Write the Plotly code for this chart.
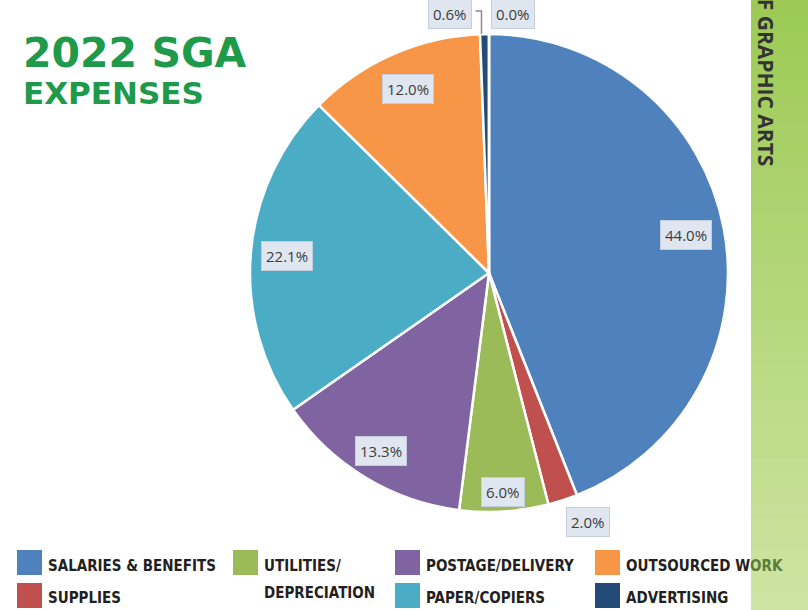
import math
import plotly.graph_objects as go

# ---- data ----
categories = ["SALARIES & BENEFITS", "SUPPLIES", "UTILITIES/ DEPRECIATION", "POSTAGE/DELIVERY",
              "PAPER/COPIERS", "OUTSOURCED WORK", "ADVERTISING", "OTHER"]
values = [44.0, 2.0, 6.0, 13.3, 22.1, 12.0, 0.6, 0.0]
colors = ["#4f81bd", "#c0504d", "#9bbb59", "#8064a2", "#4bacc6", "#f79646", "#244a78", "#1f3f66"]
legend_order = [0, 1, 2, 3, 4, 5, 6]

W, H = 808, 610
CX, CY, R = 489, 273, 239

# label placement styling: (radial factor, dx px, dy px)
label_style = [(0.84, 0, 0), (1.12, 16, -6), (0.92, 0, 0), (0.87, 0, 0),
               (0.85, 0, 0), (0.84, 0, 0), (1.084, -34, 0), (1.084, 24, 0)]

def px(x):
    return x / W

def py(y):
    return 1 - y / H

fig = go.Figure()
fig.add_trace(go.Pie(
    labels=categories, values=values, sort=False, direction="clockwise", rotation=0,
    marker=dict(colors=colors, line=dict(color="white", width=2.5)),
    textinfo="none", hoverinfo="label+percent", showlegend=False,
    domain=dict(x=[px(CX - R), px(CX + R)], y=[py(CY + R), py(CY - R)]),
))

shapes = []
annotations = []

# right decorative band (gradient by strips)
top_c = (0x9c, 0xca, 0x55)
bot_c = (0xcd, 0xe4, 0xa2)
n = 40
for i in range(n):
    t = i / (n - 1)
    c = tuple(round(top_c[k] + (bot_c[k] - top_c[k]) * t) for k in range(3))
    shapes.append(dict(type="rect", xref="paper", yref="paper", layer="below",
                       x0=px(751), x1=1.0, y0=py(H * (i + 1) / n + 1), y1=py(H * i / n),
                       fillcolor="rgb(%d,%d,%d)" % c, line=dict(width=0)))

annotations.append(dict(text="<b>OF GRAPHIC ARTS</b>", textangle=90, xref="paper", yref="paper",
                        x=px(766), y=py(168), xanchor="center", yanchor="bottom", showarrow=False,
                        font=dict(family="Open Sans", size=21, color="#333333")))

# title
annotations.append(dict(text="<b>2022 SGA</b>", xref="paper", yref="paper", x=px(21), y=py(53),
                        xanchor="left", yanchor="middle", showarrow=False,
                        font=dict(family="DejaVu Sans", size=41, color="#1e9a4a")))
annotations.append(dict(text="<b>EXPENSES</b>", xref="paper", yref="paper", x=px(21), y=py(93),
                        xanchor="left", yanchor="middle", showarrow=False,
                        font=dict(family="DejaVu Sans", size=31, color="#1e9a4a")))

# data labels
total = sum(values)
cum = 0.0
anchor_pts = []
for i, v in enumerate(values):
    mid = (cum + v / 2) / total * 2 * math.pi
    cum += v
    rf, dx, dy = label_style[i]
    x = CX + math.sin(mid) * rf * R + dx
    y = CY - math.cos(mid) * rf * R + dy
    anchor_pts.append((CX + math.sin(mid) * R, CY - math.cos(mid) * R))
    annotations.append(dict(text="%.1f%%" % v, xref="paper", yref="paper", x=px(x), y=py(y),
                            xanchor="center", yanchor="middle", showarrow=False,
                            bgcolor="#dfe6f0", bordercolor="#c4cedc", borderwidth=1, borderpad=4,
                            font=dict(family="Open Sans", size=15, color="#3c3c3c")))

# leader line for the small advertising slice
ax_, ay_ = anchor_pts[6]
lx = ax_ - 34 + 25
shapes.append(dict(type="path", xref="paper", yref="paper", layer="above",
                   path="M %f,%f L %f,%f L %f,%f" % (px(ax_ - 3), py(ay_), px(ax_ - 3), py(11), px(lx), py(11)),
                   line=dict(color="#8c8c8c", width=1.5)))

# custom legend
col_x = [17, 233, 395, 595]
row_sq = [550, 583]
row_txt = [566, 598]
legend_slots = [(0, 0), (0, 1), (1, 0), (2, 0), (2, 1), (3, 0), (3, 1)]
legend_texts = [["SALARIES & BENEFITS"], ["SUPPLIES"], ["UTILITIES/", "DEPRECIATION"],
                ["POSTAGE/DELIVERY"], ["PAPER/COPIERS"],
                ["OUTSOURCED W<span style='color:#5b7d3a'>ORK</span>"], ["ADVERTISING"]]
for k, idx in enumerate(legend_order):
    c, r = legend_slots[k]
    x0 = col_x[c]
    y0 = row_sq[r]
    shapes.append(dict(type="rect", xref="paper", yref="paper", x0=px(x0), x1=px(x0 + 25),
                       y0=py(y0 + 25), y1=py(y0), fillcolor=colors[idx], line=dict(width=0)))
    for j, line in enumerate(legend_texts[k]):
        ty = row_txt[r] + j * 27
        annotations.append(dict(text="<b>%s</b>" % line, xref="paper", yref="paper",
                                x=px(x0 + 29), y=py(ty),
                                xanchor="left", yanchor="middle", showarrow=False,
                                font=dict(family="DejaVu Sans Condensed, Liberation Sans Narrow, Open Sans",
                                          size=15, color="#231f20")))

fig.update_layout(width=W, height=H, margin=dict(l=0, r=0, t=0, b=0),
                  paper_bgcolor="white", plot_bgcolor="white",
                  shapes=shapes, annotations=annotations, showlegend=False)

fig.write_html("out.html", config={"displayModeBar": False})

# remove default page margin so the figure fills the window exactly
with open("out.html", "r", encoding="utf-8") as f:
    html = f.read()
html = html.replace("<head>", "<head><style>html,body{margin:0;padding:0;overflow:hidden;}</style>", 1)
with open("out.html", "w", encoding="utf-8") as f:
    f.write(html)
